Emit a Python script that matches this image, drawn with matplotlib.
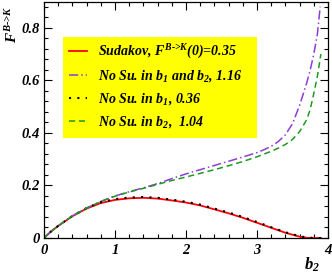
import numpy as np
import matplotlib
matplotlib.use("Agg")
import matplotlib.pyplot as plt
from matplotlib.ticker import MultipleLocator
from matplotlib.patches import Rectangle

plt.rcParams["font.family"] = "Liberation Serif"
plt.rcParams["font.weight"] = "bold"
plt.rcParams["font.style"] = "italic"
plt.rcParams["mathtext.fontset"] = "custom"
plt.rcParams["mathtext.it"] = "Liberation Serif:italic:bold"
plt.rcParams["mathtext.rm"] = "Liberation Serif:italic:bold"
plt.rcParams["mathtext.bf"] = "Liberation Serif:bold"

# Sudakov curve
b_sud = [0, 0.1, 0.2, 0.4, 0.6, 0.8, 1.0, 1.2, 1.4, 1.6, 1.8, 2.0, 2.2, 2.4,
         2.6, 2.8, 3.0, 3.2, 3.4, 3.6, 3.7, 3.8, 3.9]
f_sud = [0, 0.025, 0.046, 0.083, 0.112, 0.133, 0.145, 0.151, 0.153, 0.150,
         0.143, 0.135, 0.124, 0.109, 0.094, 0.077, 0.058, 0.039, 0.020,
         0.005, 0.001, 0.0, 0.0]

# no Sudakov in b1 (dotted)
b_nob1 = [0, 0.1, 0.2, 0.4, 0.6, 0.8, 1.0, 1.2, 1.4, 1.6, 1.8, 2.0, 2.2, 2.4,
          2.6, 2.8, 3.0, 3.2, 3.4, 3.6, 3.7, 3.8, 3.9]
f_nob1 = [0, 0.025, 0.046, 0.084, 0.114, 0.136, 0.148, 0.154, 0.156, 0.153,
          0.146, 0.138, 0.127, 0.112, 0.097, 0.080, 0.061, 0.041, 0.022,
          0.007, 0.002, 0.0, 0.0]

# no Sudakov in b1 and b2 (dash-dot)
b_none = [0, 0.1, 0.2, 0.4, 0.6, 0.8, 1.0, 1.2, 1.4, 1.6, 1.8, 2.0, 2.2, 2.4,
          2.6, 2.8, 3.0, 3.1, 3.2, 3.3, 3.4, 3.5, 3.6, 3.7, 3.75, 3.8, 3.85,
          3.89]
f_none = [0, 0.025, 0.046, 0.084, 0.114, 0.139, 0.160, 0.176, 0.191, 0.207,
          0.226, 0.244, 0.260, 0.276, 0.292, 0.308, 0.325, 0.336, 0.349,
          0.367, 0.393, 0.435, 0.505, 0.590, 0.640, 0.700, 0.775, 0.880]

# no Sudakov in b2 (dashed)
b_nob2 = [0, 0.1, 0.2, 0.4, 0.6, 0.8, 1.0, 1.2, 1.4, 1.6, 1.8, 2.0, 2.2, 2.4,
          2.6, 2.8, 3.0, 3.2, 3.3, 3.4, 3.5, 3.6, 3.7, 3.75, 3.8, 3.85, 3.9]
f_nob2 = [0, 0.025, 0.046, 0.084, 0.114, 0.139, 0.159, 0.175, 0.189, 0.204,
          0.219, 0.232, 0.246, 0.260, 0.275, 0.291, 0.309, 0.330, 0.342,
          0.356, 0.375, 0.405, 0.450, 0.490, 0.550, 0.615, 0.700]

labels = [
    "Sudakov, $F^{\\text{B->K}}$(0)=0.35",
    "No Su. in $b_1$ and $b_2$, 1.16",
    "No Su. in $b_1$, 0.36",
    "No Su. in $b_2$,  1.04",
]

fig = plt.figure(figsize=(3.32, 2.80), dpi=100)
ax = fig.add_axes([44 / 332, 42 / 280, 284 / 332, 236.5 / 280])

l1, = ax.plot(b_sud, f_sud, color="red", lw=1.3)
l2, = ax.plot(b_none, f_none, color="#8a3fd6", lw=1.1, linestyle=(0, (6, 2, 1, 2)))
l3, = ax.plot(b_nob1, f_nob1, color="black", lw=1.5, linestyle=(0, (1, 3.0)))
l4, = ax.plot(b_nob2, f_nob2, color="#1f9a1f", lw=1.1, linestyle=(0, (4, 2.5)))

ax.set_xlim(0, 4)
ax.set_ylim(0, 0.9)
ax.xaxis.set_major_locator(MultipleLocator(1))
ax.xaxis.set_minor_locator(MultipleLocator(0.2))
ax.yaxis.set_major_locator(MultipleLocator(0.2))
ax.yaxis.set_minor_locator(MultipleLocator(0.04))
ax.xaxis.set_major_formatter(plt.FuncFormatter(lambda v, p: "%g" % v))
ax.yaxis.set_major_formatter(plt.FuncFormatter(lambda v, p: "%g" % round(v, 2)))
ax.tick_params(which="both", direction="in", top=True, right=True, labelsize=10.5, width=0.8)
ax.tick_params(which="major", length=6, pad=3)
ax.tick_params(axis="x", which="major", pad=4.5)
ax.tick_params(which="minor", length=3)
for s in ax.spines.values():
    s.set_linewidth(0.9)

# yellow legend box
ax.add_patch(Rectangle((0.067, 0.423), 0.683, 0.427, transform=ax.transAxes,
                       facecolor="yellow", edgecolor="none", zorder=4))
leg = ax.legend([l1, l2, l3, l4], labels, loc="upper left",
                bbox_to_anchor=(0.067, 0.85), borderaxespad=0,
                frameon=False, fontsize=10,
                handlelength=1.3, handletextpad=0.8, labelspacing=0.5,
                borderpad=0.45)
leg.set_zorder(5)

fig.text(0.036, 0.915, "$F^{\\text{B->K}}$", rotation=90, ha="center",
         va="center", fontsize=11)
fig.text(0.94, 0.055, "$\\mathbf{b}_\\mathbf{2}$", ha="center", va="center",
         fontsize=12)

fig.savefig("out.png", dpi=100)
